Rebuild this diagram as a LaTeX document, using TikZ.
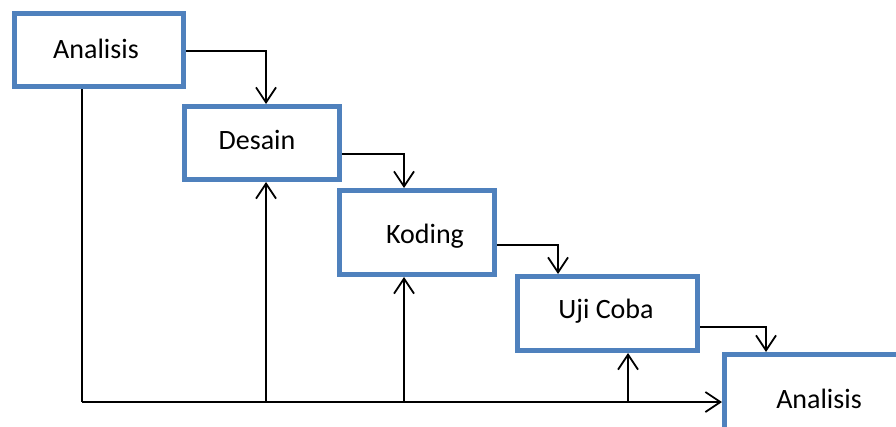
\documentclass[tikz,border=0pt]{standalone}
\usepackage{fontspec}
\setmainfont{Carlito}
\usetikzlibrary{arrows.meta}
\definecolor{boxblue}{RGB}{79,129,189}
\tikzset{
  stagebox/.style={draw=boxblue, line width=5pt, fill=white, rectangle, inner sep=0pt},
  stagetext/.style={font=\fontsize{28}{34}\selectfont, inner sep=0pt, text=black},
  conn/.style={draw=black, line width=1.8pt},
  arr/.style={conn, -{Straight Barb[length=15pt,width=20pt,line width=1.8pt]}}
}
\begin{document}
\begin{tikzpicture}[x=1pt,y=-1pt]
\useasboundingbox (0,0) rectangle (896,426);
\clip (0,0) rectangle (896,426);
\fill[white] (0,0) rectangle (896,426);
% boxes
\node[stagebox, minimum width=169pt, minimum height=73pt] (b1) at (99,50) {};
\node[stagebox, minimum width=155pt, minimum height=73pt] (b2) at (262,143) {};
\node[stagebox, minimum width=155pt, minimum height=84pt] (b3) at (417,232.5) {};
\node[stagebox, minimum width=180pt, minimum height=74pt] (b4) at (607.5,313.5) {};
\node[stagebox, minimum width=225.5pt, minimum height=125.5pt] (b5) at (837.25,417.25) {};
% texts
\node[stagetext] (t1) at (96,49) {Analisis};
\node[stagetext] (t2) at (257,140) {Desain};
\node[stagetext] (t3) at (425,236) {Koding};
\node[stagetext] (t4) at (606,311) {Uji Coba};
\node[stagetext] (t5) at (819,399) {Analisis};
% forward connectors
\draw[arr] ([yshift=-1pt]b1.east) -| ([xshift=4pt]b2.north);
\draw[arr] ([yshift=-11pt]b2.east) -| ([xshift=-13pt]b3.north);
\draw[arr] ([yshift=-12.5pt]b3.east) -| ([xshift=-49.5pt]b4.north);
\draw[arr] ([yshift=-13.5pt]b4.east) -| ([xshift=-71.25pt]b5.north);
% feedback
\coordinate (c0) at (82,402);
\coordinate (cD) at (266,402);
\coordinate (cK) at (404,402);
\coordinate (cU) at (628,402);
\draw[conn] ([xshift=-17pt]b1.south) -- (c0);
\draw[arr] (c0) -- (b5.west |- c0);
\draw[arr] (cD) -- (cD |- b2.south);
\draw[arr] (cK) -- (cK |- b3.south);
\draw[arr] (cU) -- (cU |- b4.south);
\end{tikzpicture}
\end{document}
